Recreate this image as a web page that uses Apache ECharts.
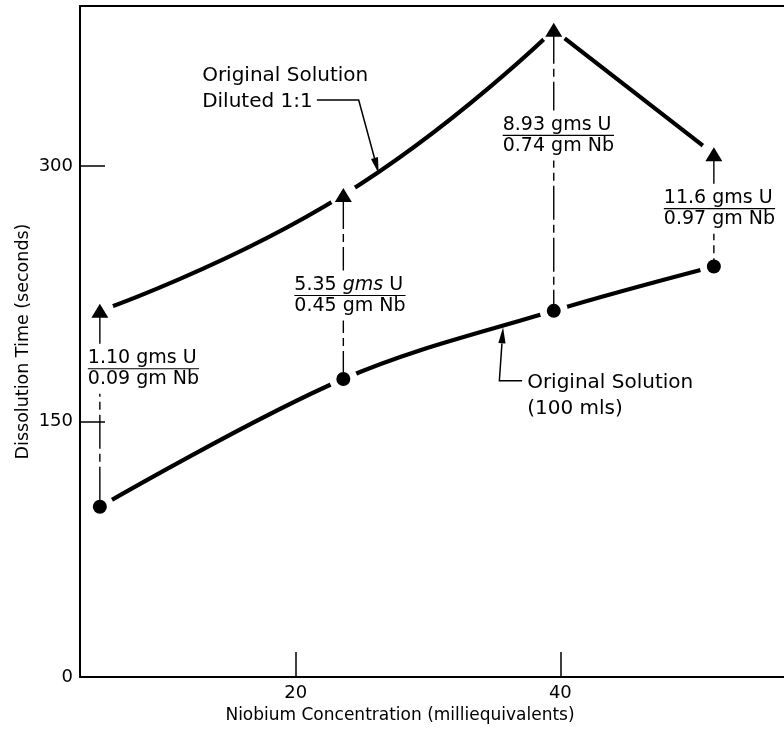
<!DOCTYPE html>
<html>
<head>
<meta charset="utf-8">
<script src="https://cdn.jsdelivr.net/npm/echarts@6/dist/echarts.min.js"></script>
<style>
  html, body { margin: 0; padding: 0; background: #fff; }
  #chart { width: 784px; height: 732px; }
</style>
</head>
<body>
<div id="chart"></div>
<script>
// Niobium concentration of each run (milliequivalents)
const niobium = [5.2, 23.6, 39.5, 51.6];
// Dissolution time (s) of the original solution diluted 1:1
const dilutedTimes = [215, 283, 380, 307];
// Dissolution time (s) of the original solution (100 mls)
const originalTimes = [100, 175, 215, 241];
// Sample composition written on each run's connector
const uraniumGrams = ['1.10', '5.35', '8.93', '11.6'];
const niobiumGrams = ['0.09', '0.45', '0.74', '0.97'];
// Height (s) at which each composition note sits on its connector
const noteLevels = [181, 224, 318, 275];
// Axis ticks
const xTicks = [20, 40];
const yTicks = [0, 150, 300];

const FONT = 'DejaVu Sans';
const INK = '#000';

// horizontal shift (px) of each composition note from its connector
const noteShift = [-13, -50, -52, -51];

const pts = ys => niobium.map((x, i) => [x, ys[i]]);
const diluted = pts(dilutedTimes);
const original = pts(originalTimes);

const curveStyle = { color: INK, width: 4.2, cap: 'round', opacity: 1 };

const series = [
  // rising part of the diluted-solution curve
  { type: 'line', data: diluted.slice(0, 3), smooth: 0.5, symbol: 'none',
    lineStyle: curveStyle, z: 2, silent: true },
  // falling part after the peak
  { type: 'line', data: diluted.slice(2), smooth: false, symbol: 'none',
    lineStyle: curveStyle, z: 2, silent: true },
  // original-solution curve
  { type: 'line', data: original, smooth: 0.35, symbol: 'none',
    lineStyle: curveStyle, z: 2, silent: true },
  // white clearance around every marker so the curves stop short of them
  { type: 'scatter', data: diluted.concat(original), symbol: 'circle',
    symbolSize: 28, itemStyle: { color: '#fff', opacity: 1 }, z: 3, silent: true }
];

// dash-dot connectors between the two runs at the same concentration
niobium.forEach((x, i) => {
  series.push({
    type: 'line', data: [[x, dilutedTimes[i]], [x, originalTimes[i]]],
    symbol: 'none', silent: true, z: 4,
    lineStyle: { color: INK, width: 1.4, type: [34, 5, 8, 5], opacity: 1 }
  });
});

// markers
series.push(
  { type: 'scatter', data: diluted, symbol: 'triangle', symbolSize: [17, 14],
    itemStyle: { color: INK, opacity: 1 }, z: 5, silent: true },
  { type: 'scatter', data: original, symbol: 'circle', symbolSize: 14,
    itemStyle: { color: INK, opacity: 1 }, z: 5, silent: true }
);

// composition notes written as fractions
series.push({
  type: 'scatter', symbolSize: 0, z: 6, silent: true,
  itemStyle: { opacity: 1 },
  data: niobium.map((x, i) => ({
    value: [x, noteLevels[i]],
    label: {
      offset: [noteShift[i], 0],
      formatter: (i === 1
        ? `{n|${uraniumGrams[i]} }{ni|gms}{n| U}`
        : `{n|${uraniumGrams[i]} gms U}`) +
        `\n{hr|}\n{d|${niobiumGrams[i]} gm Nb}`
    }
  })),
  label: {
    show: true, position: 'inside', align: 'left', verticalAlign: 'middle',
    backgroundColor: '#fff', padding: [4, 1, 4, 1], opacity: 1,
    rich: {
      n: { fontFamily: FONT, fontSize: 19, lineHeight: 21, color: INK },
      ni: { fontFamily: FONT, fontSize: 19, lineHeight: 21, color: INK, fontStyle: 'italic' },
      hr: { borderColor: INK, borderWidth: 1.2, width: '100%', height: 0 },
      d: { fontFamily: FONT, fontSize: 19, lineHeight: 21, color: INK }
    }
  }
});

const axisLine = { show: true, lineStyle: { color: INK, width: 2 } };
const tickStyle = { color: INK, width: 1.5 };

const chart = echarts.init(document.getElementById('chart'), null, { renderer: 'canvas' });
chart.setOption({
  animation: false,
  backgroundColor: '#fff',
  grid: { left: 80, right: 0, top: 6, bottom: 55, containLabel: false },
  xAxis: [
    {
      type: 'value', min: 3.7, max: 56.9, position: 'bottom',
      axisLine: axisLine,
      axisTick: { show: true, inside: true, length: 25, customValues: xTicks, lineStyle: tickStyle },
      axisLabel: { customValues: xTicks, fontFamily: FONT, fontSize: 18, color: INK, margin: 7 },
      splitLine: { show: false },
      name: 'Niobium Concentration (milliequivalents)',
      nameLocation: 'middle', nameGap: 30, nameMoveOverlap: false,
      nameTextStyle: { fontFamily: FONT, fontSize: 17, color: INK, padding: [0, 64, 0, 0] }
    },
    {
      type: 'value', min: 3.7, max: 56.9, position: 'top',
      axisLine: axisLine, axisTick: { show: false }, axisLabel: { show: false },
      splitLine: { show: false }
    }
  ],
  yAxis: {
    type: 'value', min: 0, max: 394,
    axisLine: axisLine,
    axisTick: { show: true, inside: true, length: 25, customValues: yTicks, lineStyle: tickStyle },
    axisLabel: { customValues: yTicks, fontFamily: FONT, fontSize: 18, color: INK, margin: 7 },
    splitLine: { show: false },
    name: 'Dissolution Time (seconds)',
    nameLocation: 'middle', nameGap: 48, nameMoveOverlap: false,
    nameTextStyle: { fontFamily: FONT, fontSize: 17.5, color: INK }
  },
  series: series
});

// Curve callouts: text plus a leader ending in an arrow on the curve
const callouts = [
  { text: 'Original Solution\nDiluted 1:1', textAt: [12.93, 360.5],
    leader: [[21.6, 338.8], [24.76, 338.8], [26.27, 295.7]] },
  { text: 'Original Solution\n(100 mls)', textAt: [37.49, 180.6],
    leader: [[37.11, 174.0], [35.39, 174.0], [35.67, 205.3]] }
];

const toPx = p => chart.convertToPixel({ xAxisIndex: 0, yAxisIndex: 0 }, p);
const graphics = [];
callouts.forEach(c => {
  const t = toPx(c.textAt);
  graphics.push({
    type: 'text', x: t[0], y: t[1], z: 10, silent: true,
    style: { text: c.text, fontFamily: FONT, fontSize: 20, lineHeight: 26,
             fill: INK, align: 'left', verticalAlign: 'top' }
  });
  const path = c.leader.map(toPx);
  const tip = path[path.length - 1];
  const prev = path[path.length - 2];
  const dx = tip[0] - prev[0], dy = tip[1] - prev[1];
  const len = Math.hypot(dx, dy);
  const ux = dx / len, uy = dy / len;
  const head = 16, half = 3.6;
  const base = [tip[0] - ux * head, tip[1] - uy * head];
  graphics.push({
    type: 'polyline', z: 10, silent: true,
    shape: { points: path.slice(0, -1).concat([base]) },
    style: { stroke: INK, lineWidth: 1.5, fill: null }
  });
  graphics.push({
    type: 'polygon', z: 10, silent: true,
    shape: { points: [tip,
      [base[0] - uy * half, base[1] + ux * half],
      [base[0] + uy * half, base[1] - ux * half]] },
    style: { fill: INK }
  });
});
chart.setOption({ graphic: graphics });
</script>
</body>
</html>
